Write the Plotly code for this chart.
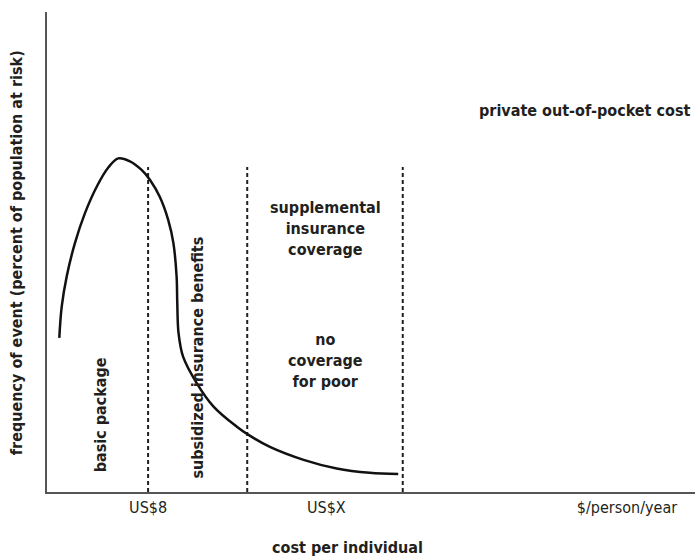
import plotly.graph_objects as go

# Cost-frequency curve (arbitrary units, x: cost, y: frequency)
curve_x = [1.9, 2.27, 3.04, 4.32, 5.86, 7.67, 9.46, 11.0, 12.8,
           14.6, 15.9, 17.4, 18.7, 19.5, 20.0, 20.1, 20.3, 21.0, 23.1, 25.7,
           29.3, 31.1, 34.4, 39.6, 44.7, 49.8, 54.2]
curve_y = [32.1, 38.6, 44.9, 51.9, 58.1, 63.6, 67.6, 69.5, 68.9,
           67.1, 65.0, 61.5, 56.7, 51.9, 44.9, 39.6, 33.1, 28.2, 22.7, 17.8,
           13.6, 11.9, 9.4, 6.7, 4.9, 4.0, 3.75]

# Vertical threshold lines
cutoff_x = [15.6, 30.9, 54.9]
cutoff_top = 67.7

tick_vals = [15.6, 43.1, 89.5]
tick_text = ["US$8", "US$X", "$/person/year"]

FONT = "Liberation Sans Narrow, DejaVu Sans Condensed, Arial Narrow, sans-serif"
TXT = "#231f20"
SIZE = 16

fig = go.Figure()

for cx in cutoff_x:
    fig.add_trace(go.Scatter(
        x=[cx, cx], y=[0, cutoff_top], mode="lines",
        line=dict(color="#231f20", width=2, dash="4px,3px"),
        hoverinfo="skip", showlegend=False,
    ))

fig.add_trace(go.Scatter(
    x=curve_x, y=curve_y, mode="lines",
    line=dict(color="#111", width=2.5, shape="spline", smoothing=1.0),
    hoverinfo="skip", showlegend=False,
))

labels = [
    dict(x=8.2, y=16, text="<b>basic package</b>", textangle=-90, xanchor="center"),
    dict(x=23.3, y=28, text="<b>subsidized insurance benefits</b>", textangle=-90, xanchor="center"),
    dict(x=43.0, y=55, text="<b>supplemental<br>insurance<br>coverage</b>", textangle=0, xanchor="center"),
    dict(x=43.0, y=27.5, text="<b>no<br>coverage<br>for poor</b>", textangle=0, xanchor="center"),
    dict(x=99.6, y=79.4, text="<b>private out-of-pocket cost</b>", textangle=0, xanchor="right"),
]
for lab in labels:
    fig.add_annotation(
        x=lab["x"], y=lab["y"], text=lab["text"], textangle=lab["textangle"],
        xanchor=lab["xanchor"], showarrow=False,
        font=dict(family=FONT, size=SIZE, color=TXT), align="center",
    )

fig.add_annotation(
    xref="paper", yref="paper", x=0.464, y=-0.115, yanchor="middle",
    text="<b>cost per individual</b>", showarrow=False,
    font=dict(family=FONT, size=SIZE, color=TXT),
)
fig.add_annotation(
    xref="paper", yref="paper", x=-0.046, y=0.498, xanchor="center",
    text="<b>frequency of event (percent of population at risk)</b>",
    textangle=-90, showarrow=False,
    font=dict(family=FONT, size=SIZE, color=TXT),
)

fig.update_layout(
    width=695, height=559,
    margin=dict(l=47, r=0, t=12, b=67),
    plot_bgcolor="white", paper_bgcolor="white",
    xaxis=dict(range=[0, 100], showgrid=False, zeroline=False,
               showline=True, linecolor="#555", linewidth=2,
               tickvals=tick_vals, ticktext=tick_text, ticks="",
               tickfont=dict(family=FONT, size=SIZE, color=TXT)),
    yaxis=dict(range=[0, 100], showgrid=False, zeroline=False,
               showline=True, linecolor="#555", linewidth=2,
               showticklabels=False, ticks=""),
)

# drop the default page margin so the figure fills the window
fig.write_html("out.html", config={"displayModeBar": False},
               post_script="document.body.style.margin = '0';")
